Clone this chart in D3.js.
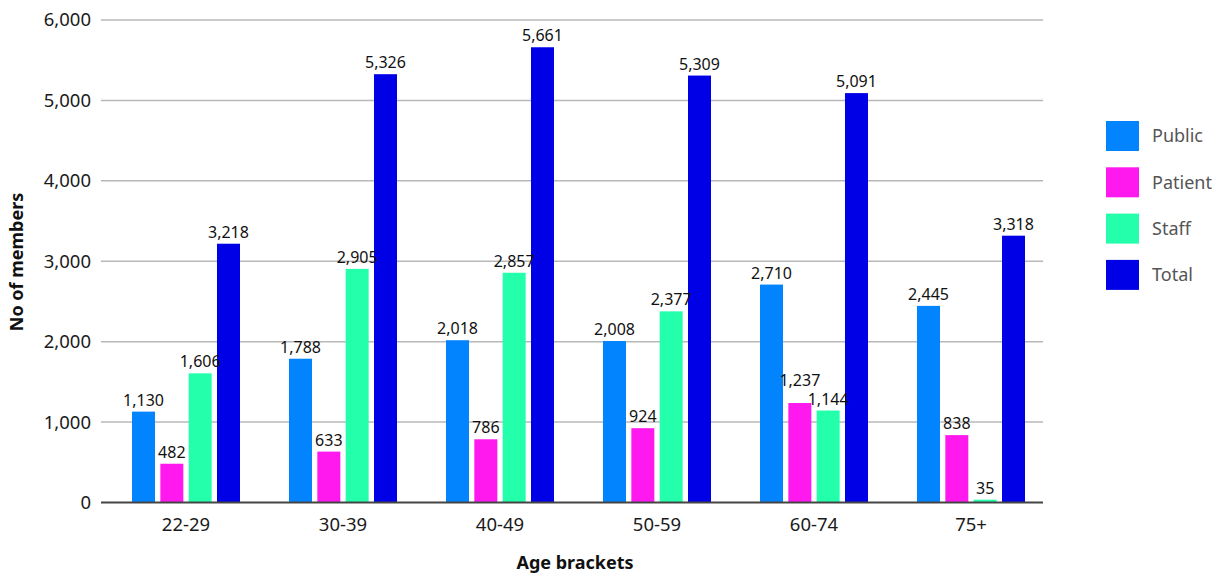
<!DOCTYPE html>
<html>
<head>
<meta charset="utf-8">
<script src="https://cdn.jsdelivr.net/npm/d3@7"></script>
<style>
  html, body { margin: 0; padding: 0; background: #fff; }
  svg { display: block; font-family: "Noto Sans", "Open Sans", sans-serif; }
</style>
</head>
<body>
<svg id="chart" width="1223" height="573"></svg>
<script>
// Membership by age bracket
const categories = ["22-29", "30-39", "40-49", "50-59", "60-74", "75+"];
const seriesNames = ["Public", "Patient", "Staff", "Total"];
const publicValues  = [1130, 1788, 2018, 2008, 2710, 2445];
const patientValues = [482, 633, 786, 924, 1237, 838];
const staffValues   = [1606, 2905, 2857, 2377, 1144, 35];
const totalValues   = [3218, 5326, 5661, 5309, 5091, 3318];
const yTicks = [0, 1000, 2000, 3000, 4000, 5000, 6000];
const seriesColors = ["#0384ff", "#ff19ee", "#24ffab", "#0000e6"];

const seriesValues = [publicValues, patientValues, staffValues, totalValues];
const rows = categories.map((c, i) => ({
  category: c,
  values: seriesNames.map((s, j) => ({ series: s, value: seriesValues[j][i] }))
}));

const svg = d3.select("#chart");
const plotLeft = 101, plotRight = 1043, plotTop = 20, plotBottom = 502.5;

const y = d3.scaleLinear().domain([0, 6000]).range([plotBottom, plotTop]);
const x0 = d3.scaleBand().domain(categories).range([107.5, 1049.5]);
const x1 = d3.scaleBand().domain(seriesNames).range([-54, 54]).paddingInner(0.188);
const color = d3.scaleOrdinal().domain(seriesNames).range(seriesColors);
const fmt = d3.format(",");

// horizontal gridlines
svg.append("g")
  .selectAll("line")
  .data(yTicks.filter(t => t > 0))
  .join("line")
  .attr("x1", plotLeft).attr("x2", plotRight)
  .attr("y1", d => y(d)).attr("y2", d => y(d))
  .attr("stroke", "#b8b8b8").attr("stroke-width", 1.5);

// y axis tick labels
const yAxis = d3.axisLeft(y).tickValues(yTicks).tickFormat(fmt).tickSize(0).tickPadding(10);
svg.append("g")
  .attr("transform", `translate(${plotLeft},0)`)
  .call(yAxis)
  .call(g => g.select(".domain").remove())
  .selectAll("text")
  .attr("font-size", 18.5).attr("fill", "#1a1a1a")
  .attr("font-family", "\"Noto Sans\", sans-serif");

// bars
const groups = svg.append("g")
  .selectAll("g")
  .data(rows)
  .join("g")
  .attr("transform", d => `translate(${x0(d.category) + x0.bandwidth() / 2},0)`);

groups.selectAll("rect")
  .data(d => d.values)
  .join("rect")
  .attr("x", d => x1(d.series))
  .attr("width", x1.bandwidth())
  .attr("y", d => y(d.value))
  .attr("height", d => y(0) - y(d.value))
  .attr("fill", d => color(d.series));

// value labels; when two neighbouring labels collide, the higher one is lifted clear
const labelSize = 16;
groups.each(function (row) {
  const g = d3.select(this);
  const labels = row.values.map(d => ({
    d,
    cx: x1(d.series) + x1.bandwidth() / 2,
    by: y(d.value) - 6
  }));
  for (let i = 0; i < labels.length - 1; i++) {
    const a = labels[i], b = labels[i + 1];
    const minDx = (fmt(a.d.value).length + fmt(b.d.value).length) * labelSize * 0.28;
    if (Math.abs(a.cx - b.cx) < minDx && Math.abs(a.by - b.by) < labelSize) {
      const [upper, lower] = a.by <= b.by ? [a, b] : [b, a];
      upper.by = lower.by - labelSize * 1.15;
    }
  }
  g.selectAll("text")
    .data(labels)
    .join("text")
    .attr("x", l => l.cx)
    .attr("y", l => l.by)
    .attr("text-anchor", "middle")
    .attr("font-size", labelSize)
    .attr("fill", "#111")
    .text(l => fmt(l.d.value));
});

// baseline
svg.append("line")
  .attr("x1", plotLeft).attr("x2", plotRight)
  .attr("y1", y(0)).attr("y2", y(0))
  .attr("stroke", "#444").attr("stroke-width", 2);

// x axis labels
const xAxis = d3.axisBottom(x0).tickSize(0).tickPadding(15);
svg.append("g")
  .attr("transform", `translate(0,${plotBottom})`)
  .call(xAxis)
  .call(g => g.select(".domain").remove())
  .selectAll("text")
  .attr("font-size", 18.5).attr("fill", "#1a1a1a")
  .attr("font-family", "\"Noto Sans\", sans-serif");

// axis titles
svg.append("text")
  .attr("x", 575).attr("y", 569)
  .attr("text-anchor", "middle")
  .attr("font-size", 18).attr("font-weight", "bold").attr("fill", "#111")
  .text("Age brackets");

svg.append("text")
  .attr("transform", "translate(23,262) rotate(-90)")
  .attr("text-anchor", "middle")
  .attr("font-size", 18).attr("font-weight", "bold").attr("fill", "#111")
  .text("No of members");

// legend
const legend = svg.append("g")
  .selectAll("g")
  .data(seriesNames)
  .join("g")
  .attr("transform", (d, i) => `translate(1106,${121 + i * 46.3})`);

legend.append("rect")
  .attr("width", 33).attr("height", 30)
  .attr("fill", d => color(d));

legend.append("text")
  .attr("x", 46).attr("y", 15)
  .attr("dy", "0.35em")
  .attr("font-size", 18).attr("fill", "#555")
  .text(d => d);
</script>
</body>
</html>
